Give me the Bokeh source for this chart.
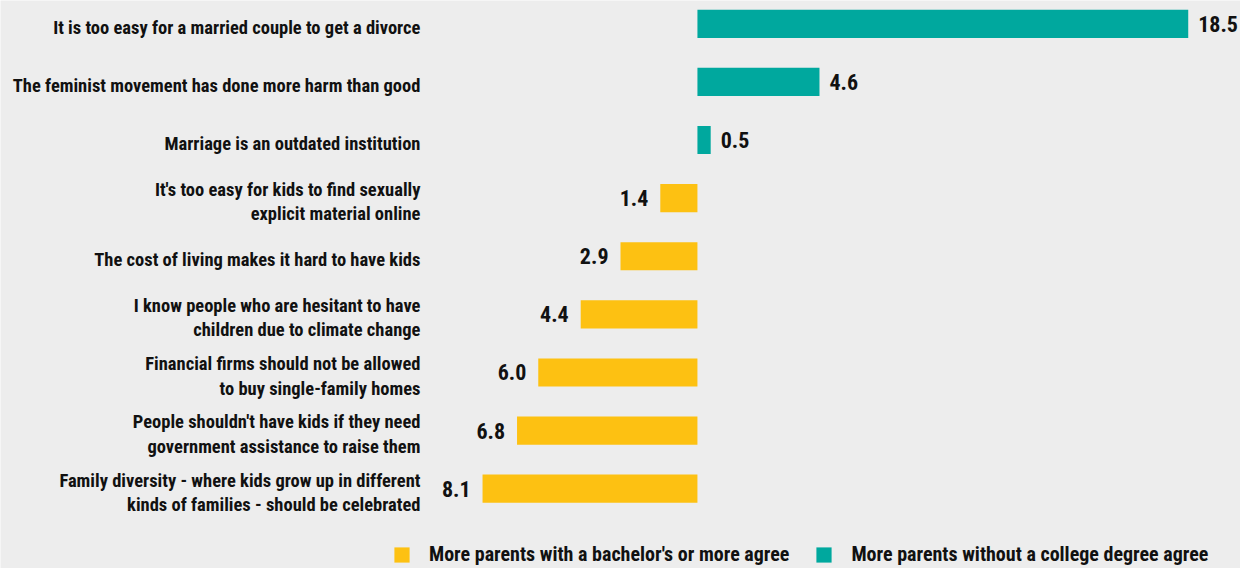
from bokeh.plotting import figure
from bokeh.models import Range1d, ColumnDataSource, Legend, LegendItem
from bokeh.embed import file_html
from bokeh.resources import INLINE
from bokeh.core.properties import value

FONT = "Roboto Condensed"

statements = [
    "It is too easy for a married couple to get a divorce",
    "The feminist movement has done more harm than good",
    "Marriage is an outdated institution",
    "It's too easy for kids to find sexually\nexplicit material online",
    "The cost of living makes it hard to have kids",
    "I know people who are hesitant to have\nchildren due to climate change",
    "Financial firms should not be allowed\nto buy single-family homes",
    "People shouldn't have kids if they need\ngovernment assistance to raise them",
    "Family diversity - where kids grow up in different\nkinds of families - should be celebrated",
]
gaps = [18.5, 4.6, 0.5, 1.4, 2.9, 4.4, 6.0, 6.8, 8.1]
groups = ["nocollege", "nocollege", "nocollege",
          "bachelor", "bachelor", "bachelor", "bachelor", "bachelor", "bachelor"]
legend_labels = {
    "bachelor": "More parents with a bachelor's or more agree",
    "nocollege": "More parents without a college degree agree",
}
colors = {"bachelor": "#FDC112", "nocollege": "#00A89E"}

BG = "#ededed"
TXT = "#111111"


def make_source(group):
    ys, xs, labels = [], [], []
    for i, (g, v) in enumerate(zip(groups, gaps)):
        if g != group:
            continue
        ys.append(i)
        xs.append(v if group == "nocollege" else -v)
        labels.append(f"{v:.1f}")
    return ColumnDataSource(dict(y=ys, x=xs, label=labels))


src_nc = make_source("nocollege")
src_ba = make_source("bachelor")
src_lab = ColumnDataSource(dict(y=list(range(len(statements))), text=statements))

p = figure(width=1240, height=568,
           x_range=Range1d(-26.27, 20.47), y_range=Range1d(9.373, -0.401),
           output_backend="svg", toolbar_location=None, min_border=0)
p.axis.visible = False
p.grid.visible = False
p.outline_line_color = None
p.background_fill_color = BG
p.border_fill_color = BG

bar_h = 0.485
r_nc = p.hbar(y="y", left=0, right="x", height=bar_h, source=src_nc,
              fill_color=colors["nocollege"], line_color=None)
r_ba = p.hbar(y="y", left=0, right="x", height=bar_h, source=src_ba,
              fill_color=colors["bachelor"], line_color=None)

common = dict(text_font=value(FONT), text_font_style="bold", text_color=TXT,
              text_baseline="middle")
p.text(x="x", y="y", text="label", source=src_nc, x_offset=10,
       text_align="left", text_font_size="22px", **common)
p.text(x="x", y="y", text="label", source=src_ba, x_offset=-12,
       text_align="right", text_font_size="22px", **common)
p.text(x=0, y="y", text="text", source=src_lab, x_offset=-277, y_offset=4,
       text_align="right", text_font_size="18.5px", text_line_height=1.1, **common)

legend = Legend(items=[
    LegendItem(label=legend_labels["bachelor"], renderers=[r_ba]),
    LegendItem(label=legend_labels["nocollege"], renderers=[r_nc]),
], orientation="horizontal", location=(392, 2))
legend.background_fill_alpha = 0
legend.border_line_color = None
legend.padding = 0
legend.margin = 0
legend.spacing = 25
legend.label_standoff = 18
legend.glyph_width = 19
legend.glyph_height = 19
legend.label_height = 20
legend.label_text_font = FONT
legend.label_text_font_style = "bold"
legend.label_text_font_size = "20px"
legend.label_text_color = TXT
legend.label_text_baseline = "middle"
p.add_layout(legend)

open("out.html", "w").write(file_html(p, INLINE))
